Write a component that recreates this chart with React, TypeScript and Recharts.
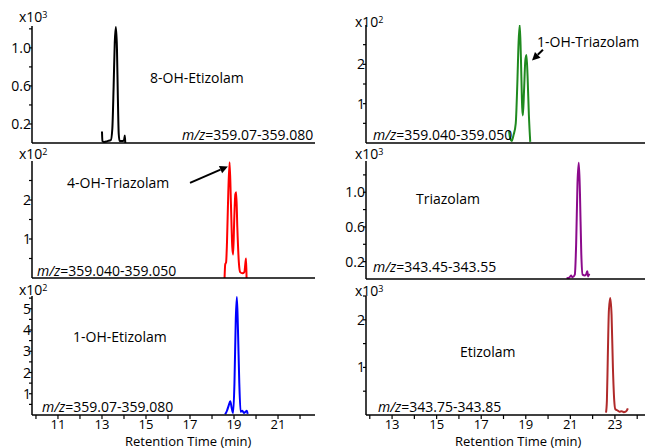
import React from 'react';
import { LineChart, Line, XAxis, YAxis, ReferenceLine } from 'recharts';

const FONT = '"Open Sans", "DejaVu Sans", sans-serif';

// 8-OH-Etizolam, m/z 359.07-359.080 (x10^3)
const oh8EtizolamTime = [13.0, 13.02, 13.1, 13.25, 13.4, 13.47, 13.53, 13.58, 13.63, 13.68, 13.72, 13.76, 13.8, 13.9, 14.0, 14.04, 14.06];
const oh8EtizolamInt = [0.12, 0.02, 0.01, 0.02, 0.03, 0.15, 0.6, 1.05, 1.22, 1.0, 0.5, 0.1, 0.02, 0.02, 0.03, 0.08, 0.0];

// 1-OH-Triazolam, m/z 359.040-359.050 (x10^2)
const oh1TriazolamTime = [18.25, 18.3, 18.37, 18.45, 18.55, 18.62, 18.68, 18.73, 18.78, 18.84, 18.87, 18.92, 18.98, 19.03, 19.08, 19.14, 19.2];
const oh1TriazolamInt = [0.3, 0.12, 0.05, 0.2, 0.5, 1.5, 2.6, 3.0, 2.2, 0.9, 0.7, 1.3, 2.1, 2.24, 1.7, 0.7, 0.03];

// 4-OH-Triazolam, m/z 359.040-359.050 (x10^2)
const oh4TriazolamTime = [18.57, 18.6, 18.64, 18.68, 18.74, 18.8, 18.86, 18.92, 18.96, 19.01, 19.06, 19.1, 19.15, 19.22, 19.28, 19.38, 19.47, 19.52, 19.55, 19.57];
const oh4TriazolamInt = [0.0, 0.35, 0.4, 0.9, 2.2, 2.97, 1.9, 0.8, 0.6, 1.5, 2.15, 2.2, 1.3, 0.4, 0.15, 0.12, 0.15, 0.4, 0.5, 0.0];

// Triazolam, m/z 343.45-343.55 (x10^3)
const triazolamTime = [20.83, 20.95, 21.03, 21.1, 21.2, 21.26, 21.32, 21.38, 21.43, 21.49, 21.55, 21.65, 21.72, 21.76, 21.8, 21.85];
const triazolamInt = [0.01, 0.015, 0.04, 0.02, 0.05, 0.4, 1.1, 1.34, 1.0, 0.3, 0.05, 0.04, 0.06, 0.09, 0.03, 0.06];

// 1-OH-Etizolam, m/z 359.07-359.080 (x10^2)
const oh1EtizolamTime = [18.6, 18.68, 18.76, 18.83, 18.9, 18.96, 19.02, 19.08, 19.13, 19.18, 19.24, 19.3, 19.38, 19.45, 19.52, 19.58, 19.62];
const oh1EtizolamInt = [0.03, 0.2, 0.45, 0.65, 0.3, 0.1, 1.5, 4.5, 5.55, 4.0, 1.5, 0.15, 0.2, 0.1, 0.15, 0.2, 0.05];

// Etizolam, m/z 343.75-343.85 (x10^3)
const etizolamTime = [22.6, 22.64, 22.68, 22.73, 22.79, 22.85, 22.91, 22.97, 23.02, 23.1, 23.2, 23.3, 23.4, 23.48, 23.54, 23.58];
const etizolamInt = [0.05, 0.3, 1.2, 2.2, 2.46, 2.1, 1.0, 0.3, 0.12, 0.1, 0.07, 0.08, 0.06, 0.07, 0.1, 0.14];

// axis ticks
const leftTimeTicks = [10, 11, 12, 13, 14, 15, 16, 17, 18, 19, 20, 21, 22];
const leftTimeLabels = [11, 13, 15, 17, 19, 21];
const rightTimeTicks = [12, 13, 14, 15, 16, 17, 18, 19, 20, 21, 22, 23, 24];
const rightTimeLabels = [13, 15, 17, 19, 21, 23];
const thousandTicks = [0.2, 0.4, 0.6, 0.8, 1.0, 1.2];
const thousandLabels = [0.2, 0.6, 1.0];
const hundredTicks = [0.5, 1, 1.5, 2, 2.5];
const hundredLabels = [1, 2];
const blueTicks = [0.5, 1, 1.5, 2, 2.5, 3, 3.5, 4, 4.5, 5, 5.5];
const blueLabels = [1, 2, 3, 4, 5];
const brownTicks = [0.5, 1, 1.5, 2, 2.5];
const brownLabels = [1, 2];

const zip = (t: number[], v: number[]) => t.map((x, i) => ({ t: x, v: v[i] }));

const PAD = 6;

type PanelProps = {
  left: number;
  plotLeft: number;
  plotRight: number;
  plotTop: number;
  plotBottom: number;
  xDomain: [number, number];
  yDomain: [number, number];
  xTicks: number[];
  xLabels: number[];
  showX: boolean;
  yTicks: number[];
  yLabels: number[];
  decimals: number;
  data: { t: number; v: number }[];
  color: string;
  arrow?: { from: [number, number]; to: [number, number] };
};

const ArrowShape = (props: any) => {
  const { x1, y1, x2, y2 } = props;
  const ang = Math.atan2(y2 - y1, x2 - x1);
  const len = 8;
  const w = 4;
  const bx = x2 - len * Math.cos(ang);
  const by = y2 - len * Math.sin(ang);
  const px = -Math.sin(ang) * w;
  const py = Math.cos(ang) * w;
  return (
    <g>
      <line x1={x1} y1={y1} x2={bx} y2={by} stroke="#000" strokeWidth={2} />
      <polygon points={`${x2},${y2} ${bx + px},${by + py} ${bx - px},${by - py}`} fill="#000" />
    </g>
  );
};

const Panel = (p: PanelProps) => {
  const xAxisH = p.showX ? 20 : 2;
  const width = p.plotRight - p.left + 1;
  const height = PAD + (p.plotBottom - p.plotTop) + xAxisH;
  const data = p.data;

  const yTick = (props: any) => {
    const { x, y, payload } = props;
    const lab = p.yLabels.some((l) => Math.abs(l - payload.value) < 1e-6);
    return (
      <g>
        <line x1={x - 3} y1={y} x2={x} y2={y} stroke="#000" strokeWidth={1.2} />
        {lab && (
          <text x={x - 1} y={y} dy={5} textAnchor="end" fontSize={14} fontFamily={FONT} fill="#000">
            {payload.value.toFixed(p.decimals)}
          </text>
        )}
      </g>
    );
  };

  const xTick = (props: any) => {
    const { x, y, payload } = props;
    const lab = p.xLabels.includes(payload.value);
    return (
      <g>
        <line x1={x} y1={y} x2={x} y2={y + 4} stroke="#000" strokeWidth={1.2} />
        {lab && (
          <text x={x} y={y + 14} textAnchor="middle" fontSize={13} fontFamily={FONT} fill="#000">
            {payload.value}
          </text>
        )}
      </g>
    );
  };

  return (
    <div style={{ position: 'absolute', left: p.left, top: p.plotTop - PAD }}>
      <LineChart width={width} height={height} data={data} margin={{ top: PAD, right: 1, left: 0, bottom: 0 }}>
        <XAxis
          type="number"
          dataKey="t"
          domain={p.xDomain}
          allowDataOverflow
          ticks={p.showX ? p.xTicks : []}
          interval={0}
          height={xAxisH}
          tickSize={0}
          tickMargin={0}
          tickLine={false}
          tick={p.showX ? xTick : false}
          axisLine={{ stroke: '#000', strokeWidth: 1.5 }}
        />
        <YAxis
          type="number"
          domain={p.yDomain}
          allowDataOverflow
          ticks={p.yTicks}
          interval={0}
          width={p.plotLeft - p.left}
          tickSize={0}
          tickMargin={0}
          tickLine={false}
          tick={yTick}
          axisLine={{ stroke: '#000', strokeWidth: 1.5 }}
        />
        <Line
          type="monotone"
          dataKey="v"
          stroke={p.color}
          strokeWidth={2}
          dot={false}
          isAnimationActive={false}
        />
        {p.arrow && (
          <ReferenceLine
            segment={[
              { x: p.arrow.from[0], y: p.arrow.from[1] },
              { x: p.arrow.to[0], y: p.arrow.to[1] },
            ]}
            ifOverflow="visible"
            shape={ArrowShape}
          />
        )}
      </LineChart>
    </div>
  );
};

const Txt = ({ x, y, children, size = 14 }: { x: number; y: number; children: React.ReactNode; size?: number }) => (
  <div
    style={{
      position: 'absolute',
      left: x,
      top: y - size / 2,
      height: size,
      lineHeight: `${size}px`,
      fontSize: size,
      fontFamily: FONT,
      color: '#000',
      whiteSpace: 'nowrap',
    }}
  >
    {children}
  </div>
);

const Mz = ({ range }: { range: string }) => (
  <>
    <span style={{ fontStyle: 'italic' }}>m/z</span>={range}
  </>
);

const Scale = ({ exp }: { exp: string }) => (
  <>
    x10<span style={{ fontSize: 9, verticalAlign: 'top', lineHeight: '9px' }}>{exp}</span>
  </>
);

const LEFT = { left: 0, plotLeft: 32, plotRight: 315, xDomain: [9.82, 22.68] as [number, number], xTicks: leftTimeTicks, xLabels: leftTimeLabels };
const RIGHT = { left: 330, plotLeft: 366, plotRight: 645, xDomain: [11.83, 24.35] as [number, number], xTicks: rightTimeTicks, xLabels: rightTimeLabels };

export default function App() {
  return (
    <div style={{ position: 'absolute', left: 0, top: 0, width: 646, height: 448, background: '#fff', overflow: 'hidden' }}>
      <Panel
        {...LEFT}
        plotTop={26}
        plotBottom={143}
        yDomain={[0, 1.23]}
        yTicks={thousandTicks}
        yLabels={thousandLabels}
        decimals={1}
        showX={false}
        data={zip(oh8EtizolamTime, oh8EtizolamInt)}
        color="#000000"
      />
      <Panel
        {...RIGHT}
        plotTop={25}
        plotBottom={143}
        yDomain={[0, 3]}
        yTicks={hundredTicks}
        yLabels={hundredLabels}
        decimals={0}
        showX={false}
        data={zip(oh1TriazolamTime, oh1TriazolamInt)}
        color="#1f8a1f"
        arrow={{ from: [19.77, 2.37], to: [19.28, 2.1] }}
      />
      <Panel
        {...LEFT}
        plotTop={161}
        plotBottom={278}
        yDomain={[0, 3]}
        yTicks={hundredTicks}
        yLabels={hundredLabels}
        decimals={0}
        showX={false}
        data={zip(oh4TriazolamTime, oh4TriazolamInt)}
        color="#ff0000"
        arrow={{ from: [17.0, 2.44], to: [18.72, 2.86] }}
      />
      <Panel
        {...RIGHT}
        plotTop={161}
        plotBottom={279}
        yDomain={[0, 1.36]}
        yTicks={thousandTicks}
        yLabels={thousandLabels}
        decimals={1}
        showX={false}
        data={zip(triazolamTime, triazolamInt)}
        color="#8b0a8b"
      />
      <Panel
        {...LEFT}
        plotTop={296}
        plotBottom={415}
        yDomain={[0, 5.6]}
        yTicks={blueTicks}
        yLabels={blueLabels}
        decimals={0}
        showX={true}
        data={zip(oh1EtizolamTime, oh1EtizolamInt)}
        color="#0000ff"
      />
      <Panel
        {...RIGHT}
        plotTop={296}
        plotBottom={415}
        yDomain={[0, 2.5]}
        yTicks={brownTicks}
        yLabels={brownLabels}
        decimals={0}
        showX={true}
        data={zip(etizolamTime, etizolamInt)}
        color="#b02a2a"
      />

      <Txt x={19} y={17}><Scale exp="3" /></Txt>
      <Txt x={355} y={22}><Scale exp="2" /></Txt>
      <Txt x={19} y={154}><Scale exp="2" /></Txt>
      <Txt x={355} y={154}><Scale exp="3" /></Txt>
      <Txt x={19} y={290}><Scale exp="2" /></Txt>
      <Txt x={355} y={291}><Scale exp="3" /></Txt>

      <Txt x={150} y={78}>8-OH-Etizolam</Txt>
      <Txt x={537} y={42}>1-OH-Triazolam</Txt>
      <Txt x={67} y={183}>4-OH-Triazolam</Txt>
      <Txt x={416} y={199}>Triazolam</Txt>
      <Txt x={73} y={337}>1-OH-Etizolam</Txt>
      <Txt x={460} y={352}>Etizolam</Txt>

      <Txt x={182} y={135}><Mz range="359.07-359.080" /></Txt>
      <Txt x={373} y={135}><Mz range="359.040-359.050" /></Txt>
      <Txt x={37} y={271}><Mz range="359.040-359.050" /></Txt>
      <Txt x={373} y={267}><Mz range="343.45-343.55" /></Txt>
      <Txt x={42} y={407}><Mz range="359.07-359.080" /></Txt>
      <Txt x={378} y={407}><Mz range="343.75-343.85" /></Txt>

      <Txt x={125} y={441} size={13}>Retention Time (min)</Txt>
      <Txt x={455} y={441} size={13}>Retention Time (min)</Txt>
    </div>
  );
}
